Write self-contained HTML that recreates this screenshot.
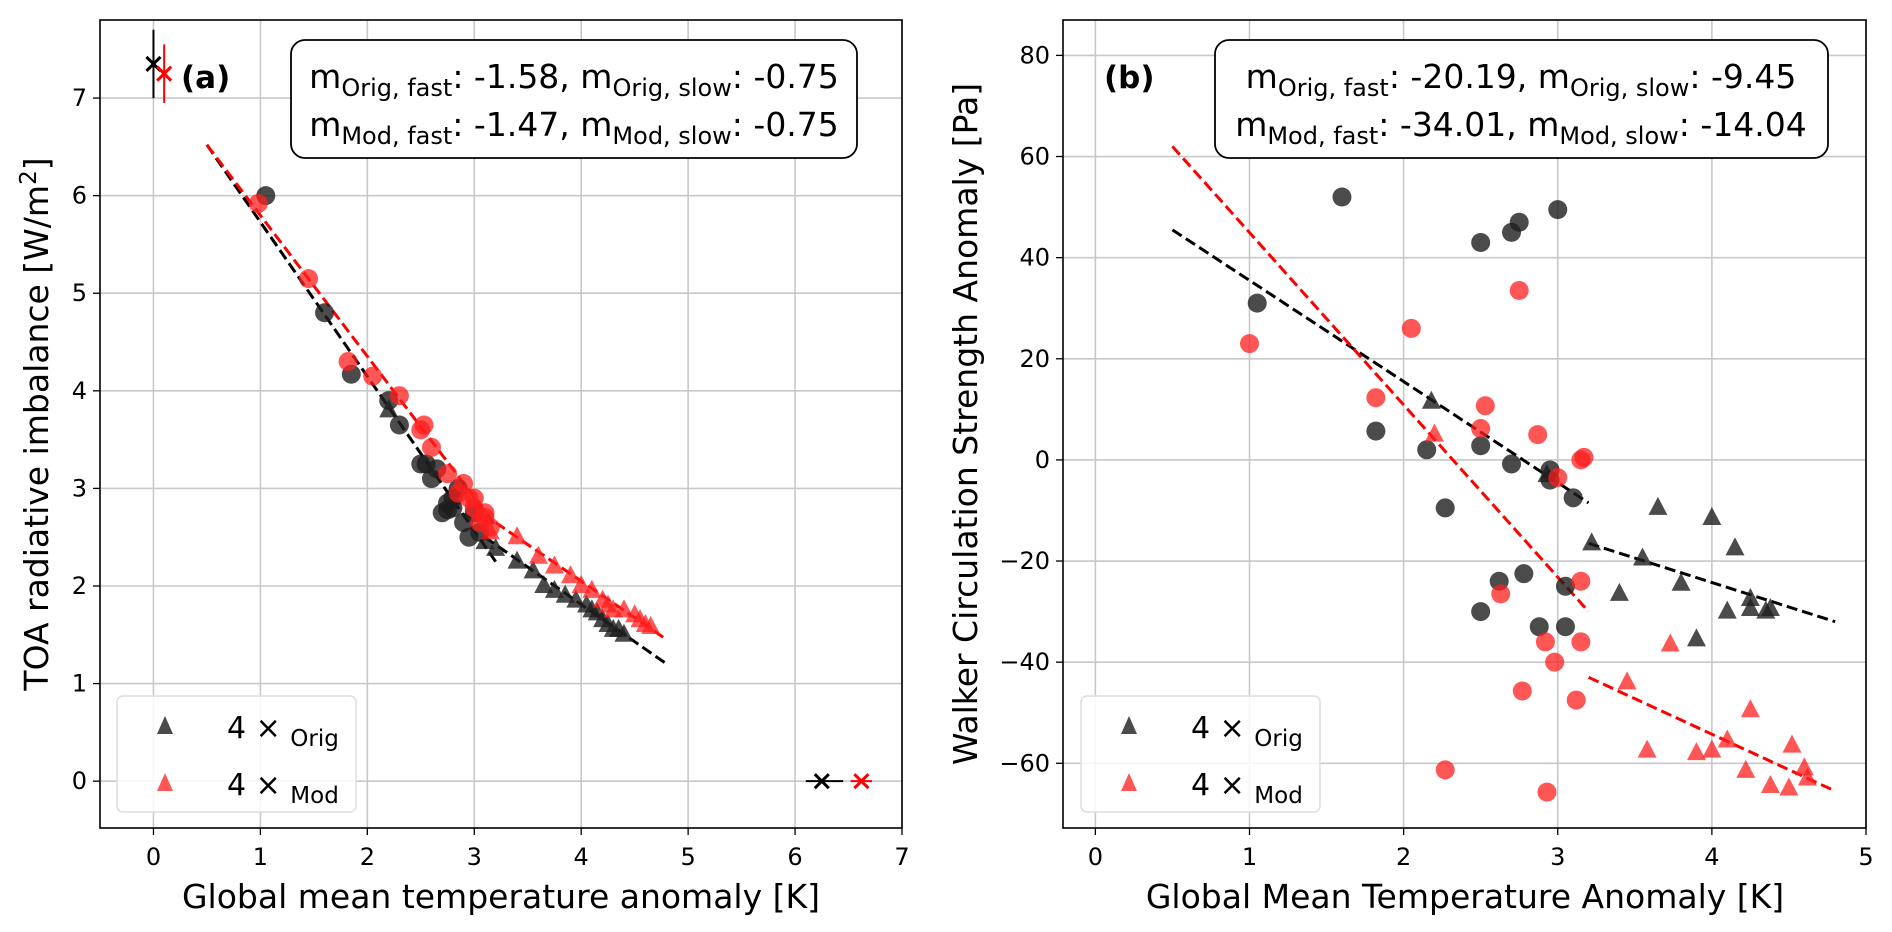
<!DOCTYPE html>
<html><head><meta charset="utf-8"><style>
body{margin:0;background:#fff;}
svg{display:block;font-family:"DejaVu Sans","Liberation Sans",sans-serif;}
</style></head><body>
<svg id="fig" width="1892" height="932" xmlns="http://www.w3.org/2000/svg"></svg>
<script>
// ---- Panel (a) data ----
const aBlackCircX=[1.05,1.6,1.85,2.2,2.3,2.5,2.55,2.6,2.7,2.75,2.8,2.9,2.95,3.0,2.65,2.85,3.05,2.75,2.8];
const aBlackCircY=[6.0,4.8,4.17,3.9,3.65,3.25,3.25,3.1,2.75,2.85,2.8,2.65,2.5,2.75,3.2,3.0,2.55,2.78,2.9];
const aBlackTriX=[2.2,3.1,3.2,3.4,3.55,3.65,3.75,3.85,3.95,4.05,4.1,4.15,4.2,4.25,4.3,4.35,4.4];
const aBlackTriY=[3.8,2.45,2.38,2.25,2.15,2.0,1.95,1.9,1.85,1.8,1.75,1.72,1.65,1.6,1.55,1.55,1.5];
const aRedCircX=[0.98,1.45,1.82,2.05,2.3,2.5,2.53,2.6,2.75,2.85,2.9,3.0,3.0,3.1,3.05,3.15,2.95,3.1];
const aRedCircY=[5.92,5.15,4.3,4.15,3.95,3.6,3.65,3.42,3.15,2.95,3.05,2.9,2.8,2.75,2.65,2.6,2.9,2.7];
const aRedTriX=[3.15,3.4,3.6,3.75,3.9,4.0,4.1,4.2,4.25,4.3,4.4,4.5,4.55,4.6,4.65];
const aRedTriY=[2.55,2.5,2.3,2.2,2.1,2.0,1.95,1.85,1.8,1.75,1.75,1.7,1.65,1.6,1.58];
const aFitBlackFast=[[0.5,6.52],[3.2,2.25]];
const aFitBlackSlow=[[3.1,2.5],[4.8,1.2]];
const aFitRedFast=[[0.5,6.52],[3.2,2.62]];
const aFitRedSlow=[[3.2,2.65],[4.8,1.45]];
const aXTicks=[0,1,2,3,4,5,6,7];
const aYTicks=[0,1,2,3,4,5,6,7];
// ---- Panel (b) data ----
const bBlackCircX=[1.05,1.6,2.5,2.7,2.75,3.0,1.82,2.15,2.5,2.7,2.95,2.95,2.27,3.1,2.62,2.78,2.5,2.88,3.05,3.05];
const bBlackCircY=[31,52,43,45,47,49.5,5.7,2,2.8,-0.8,-2,-4,-9.5,-7.5,-24,-22.5,-30,-33,-33,-25];
const bBlackTriX=[2.18,2.93,3.22,3.4,3.55,3.65,3.8,3.9,4.0,4.1,4.15,4.25,4.25,4.35,4.38];
const bBlackTriY=[11.5,-3,-16.5,-26.5,-19.5,-9.5,-24.5,-35.5,-11.5,-30,-17.5,-29.5,-27.5,-30,-29.5];
const bRedCircX=[1.0,1.82,2.05,2.5,2.53,2.75,2.87,3.0,3.15,3.17,2.63,3.15,2.92,2.98,3.15,2.77,3.12,2.27,2.93];
const bRedCircY=[23,12.3,26,6.2,10.7,33.5,5,-3.5,0,0.5,-26.5,-24,-36,-40,-36,-45.7,-47.5,-61.3,-65.7];
const bRedTriX=[2.2,3.45,3.73,3.58,3.9,4.0,4.1,4.25,4.22,4.38,4.52,4.5,4.6,4.62];
const bRedTriY=[5,-44,-36.5,-57.5,-58,-57.5,-55.5,-49.5,-61.5,-64.5,-56.5,-65,-61,-63];
const bFitBlackFast=[[0.5,45.5],[3.2,-8.5]];
const bFitBlackSlow=[[3.2,-16.5],[4.8,-32]];
const bFitRedFast=[[0.5,62],[3.2,-30]];
const bFitRedSlow=[[3.2,-43],[4.8,-65.5]];
const bXTicks=[0,1,2,3,4,5];
const bYTicks=[-60,-40,-20,0,20,40,60,80];

const NS="http://www.w3.org/2000/svg";
const svg=document.getElementById('fig');
function mk(tag,attrs,parent){const e=document.createElementNS(NS,tag);for(const k in attrs)e.setAttribute(k,attrs[k]);(parent||svg).appendChild(e);return e;}

function panel(cfg){
  const g=mk('g',{});
  
  
  const sx=v=>cfg.L+(v-cfg.x0)/(cfg.x1-cfg.x0)*(cfg.R-cfg.L);
  const sy=v=>cfg.B-(v-cfg.y0)/(cfg.y1-cfg.y0)*(cfg.B-cfg.T);
  cfg.xt.forEach(t=>{const l=mk('line',{x1:sx(t),x2:sx(t),y1:cfg.T,y2:cfg.B,stroke:'#c8c8c8','stroke-width':1.6},g);
    
    mk('line',{x1:sx(t),x2:sx(t),y1:cfg.B,y2:cfg.B+7,stroke:'#000','stroke-width':1.3},g);
    const tx=mk('text',{x:sx(t),y:cfg.B+37,'font-size':24,'text-anchor':'middle'},g);tx.textContent=t;
    });
  cfg.yt.forEach(t=>{const l=mk('line',{x1:cfg.L,x2:cfg.R,y1:sy(t),y2:sy(t),stroke:'#c8c8c8','stroke-width':1.6},g);
    
    mk('line',{x1:cfg.L-7,x2:cfg.L,y1:sy(t),y2:sy(t),stroke:'#000','stroke-width':1.3},g);
    const tx=mk('text',{x:cfg.L-13,y:sy(t)+8,'font-size':24,'text-anchor':'end'},g);tx.textContent=String(t).replace('-','\u2212');
    });
  cfg.fits.forEach(f=>{const l=mk('line',{x1:sx(f.p[0][0]),y1:sy(f.p[0][1]),x2:sx(f.p[1][0]),y2:sy(f.p[1][1]),stroke:f.c,'stroke-width':3,'stroke-dasharray':'11,5'},g);
    });
  const col={k:'rgba(30,30,30,0.8)',r:'rgba(255,30,30,0.75)'};
  cfg.sets.forEach(s=>{for(let i=0;i<s.x.length;i++){const cx=sx(s.x[i]),cy=sy(s.y[i]);let m;
    if(s.m==='o'){m=mk('circle',{cx:cx,cy:cy,r:9.5,fill:col[s.c]},g);}
    else{m=mk('polygon',{points:`${cx},${cy-11} ${cx-9.5},${cy+7} ${cx+9.5},${cy+7}`,fill:col[s.c]},g);}
    }});
  const fr=mk('rect',{x:cfg.L,y:cfg.T,width:cfg.R-cfg.L,height:cfg.B-cfg.T,fill:'none',stroke:'#000','stroke-width':1.6},g);
  
  return {g,sx,sy};
}

const pa=panel({name:'panel-a',L:100,R:902,T:20,B:828,x0:-0.5,x1:7.0,y0:-0.48,y1:7.8,xt:aXTicks,yt:aYTicks,
  fits:[{p:aFitBlackFast,c:'#000'},{p:aFitBlackSlow,c:'#000'},{p:aFitRedFast,c:'#f00'},{p:aFitRedSlow,c:'#f00'}],
  sets:[{x:aBlackCircX,y:aBlackCircY,m:'o',c:'k'},{x:aBlackTriX,y:aBlackTriY,m:'t',c:'k'},{x:aRedCircX,y:aRedCircY,m:'o',c:'r'},{x:aRedTriX,y:aRedTriY,m:'t',c:'r'}]});
function xmark(p,x,y,c,ex,ey){
  if(ey) mk('line',{x1:p.sx(x),x2:p.sx(x),y1:p.sy(ey[0]),y2:p.sy(ey[1]),stroke:c,'stroke-width':2},p.g);
  if(ex) mk('line',{x1:p.sx(ex[0]),x2:p.sx(ex[1]),y1:p.sy(y),y2:p.sy(y),stroke:c,'stroke-width':2},p.g);
  const X=p.sx(x),Y=p.sy(y);
  const m=mk('path',{d:`M${X-7},${Y-7}L${X+7},${Y+7}M${X-7},${Y+7}L${X+7},${Y-7}`,stroke:c,'stroke-width':3},p.g);
  
}
xmark(pa,0,7.35,'#000',null,[7.0,7.7]);
xmark(pa,0.1,7.25,'#f00',null,[6.95,7.55]);
xmark(pa,6.25,0,'#000',[6.1,6.45],null);
xmark(pa,6.62,0,'#f00',[6.52,6.72],null);

const pb=panel({name:'panel-b',L:1063,R:1866,T:20,B:828,x0:-0.21,x1:5.0,y0:-72.8,y1:87,xt:bXTicks,yt:bYTicks,
  fits:[{p:bFitBlackFast,c:'#000'},{p:bFitBlackSlow,c:'#000'},{p:bFitRedFast,c:'#f00'},{p:bFitRedSlow,c:'#f00'}],
  sets:[{x:bBlackCircX,y:bBlackCircY,m:'o',c:'k'},{x:bBlackTriX,y:bBlackTriY,m:'t',c:'k'},{x:bRedCircX,y:bRedCircY,m:'o',c:'r'},{x:bRedTriX,y:bRedTriY,m:'t',c:'r'}]});
</script>
<svg style="position:absolute;left:0;top:0" width="1892" height="932" xmlns="http://www.w3.org/2000/svg" font-family="DejaVu Sans, Liberation Sans, sans-serif">
  <text x="181" y="88" font-size="31" font-weight="bold">(a)</text>
  <text x="1104" y="88" font-size="31" font-weight="bold">(b)</text>
  <g>
    <rect x="291" y="40" width="566" height="118" rx="14" fill="#fff" stroke="#000" stroke-width="1.8"/>
    <text x="574" y="88" font-size="33" text-anchor="middle">m<tspan font-size="24" dy="8">Orig, fast</tspan><tspan dy="-8">: -1.58, m</tspan><tspan font-size="24" dy="8">Orig, slow</tspan><tspan dy="-8">: -0.75</tspan></text>
    <text x="574" y="136" font-size="33" text-anchor="middle">m<tspan font-size="24" dy="8">Mod, fast</tspan><tspan dy="-8">: -1.47, m</tspan><tspan font-size="24" dy="8">Mod, slow</tspan><tspan dy="-8">: -0.75</tspan></text>
  </g>
  <g>
    <rect x="1215" y="40" width="613" height="118" rx="14" fill="#fff" stroke="#000" stroke-width="1.8"/>
    <text x="1521" y="88" font-size="33" text-anchor="middle">m<tspan font-size="24" dy="8">Orig, fast</tspan><tspan dy="-8">: -20.19, m</tspan><tspan font-size="24" dy="8">Orig, slow</tspan><tspan dy="-8">: -9.45</tspan></text>
    <text x="1521" y="136" font-size="33" text-anchor="middle">m<tspan font-size="24" dy="8">Mod, fast</tspan><tspan dy="-8">: -34.01, m</tspan><tspan font-size="24" dy="8">Mod, slow</tspan><tspan dy="-8">: -14.04</tspan></text>
  </g>
  <g>
    <rect x="117" y="696" width="239" height="116" rx="6" fill="rgba(255,255,255,0.85)" stroke="#ddd" stroke-width="1.5"/>
    <polygon points="165,716 157,734 173,734" fill="rgba(30,30,30,0.8)"/>
    <text x="227" y="738" font-size="30">4 × <tspan font-size="23" dy="8">Orig</tspan></text>
    <polygon points="165,773 157,791 173,791" fill="rgba(255,30,30,0.75)"/>
    <text x="227" y="795" font-size="30">4 × <tspan font-size="23" dy="8">Mod</tspan></text>
  </g>
  <g>
    <rect x="1081" y="696" width="239" height="116" rx="6" fill="rgba(255,255,255,0.85)" stroke="#ddd" stroke-width="1.5"/>
    <polygon points="1129,716 1121,734 1137,734" fill="rgba(30,30,30,0.8)"/>
    <text x="1191" y="738" font-size="30">4 × <tspan font-size="23" dy="8">Orig</tspan></text>
    <polygon points="1129,773 1121,791 1137,791" fill="rgba(255,30,30,0.75)"/>
    <text x="1191" y="795" font-size="30">4 × <tspan font-size="23" dy="8">Mod</tspan></text>
  </g>
  <text x="501" y="908" font-size="33" text-anchor="middle">Global mean temperature anomaly [K]</text>
  <text x="1465" y="908" font-size="33" text-anchor="middle">Global Mean Temperature Anomaly [K]</text>
  <text transform="translate(48,424) rotate(-90)" font-size="33" text-anchor="middle">TOA radiative imbalance [W/m<tspan font-size="23" dy="-12">2</tspan><tspan dy="12">]</tspan></text>
  <text transform="translate(977,424) rotate(-90)" font-size="33" text-anchor="middle">Walker Circulation Strength Anomaly [Pa]</text>
</svg>
</body></html>
